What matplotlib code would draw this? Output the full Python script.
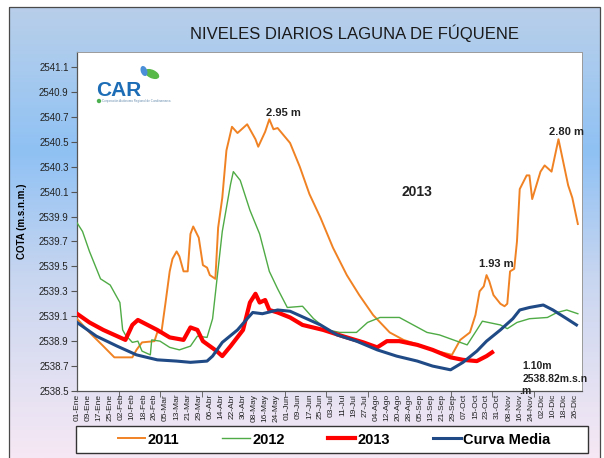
import numpy as np
import matplotlib
matplotlib.use("Agg")
import matplotlib.pyplot as plt
from matplotlib.patches import Rectangle, Ellipse
from matplotlib.colors import LinearSegmentedColormap

plt.rcParams['font.family'] = ['Liberation Sans', 'DejaVu Sans']

# ---------------- data ----------------
tick_labels = ["01-Ene", "09-Ene", "17-Ene", "25-Ene", "02-Feb", "10-Feb", "18-Feb", "26-Feb",
               "05-Mar", "13-Mar", "21-Mar", "29-Mar", "06-Abr", "14-Abr", "22-Abr", "30-Abr",
               "08-May", "16-May", "24-May", "01-Jun", "09-Jun", "17-Jun", "25-Jun", "03-Jul",
               "11-Jul", "19-Jul", "27-Jul", "04-Ago", "12-Ago", "20-Ago", "28-Ago", "05-Sep",
               "13-Sep", "21-Sep", "29-Sep", "07-Oct", "15-Oct", "23-Oct", "31-Oct", "08-Nov",
               "16-Nov", "24-Nov", "02-Dic", "10-Dic", "18-Dic", "26-Dic"]
tick_days = [8 * i for i in range(len(tick_labels))]

days_2011 = [0, 9, 19, 27, 40, 43, 47, 56, 58, 61, 64, 67, 69, 72, 74, 77, 80, 82, 84, 88,
             91, 94, 96, 100, 102, 105, 108, 112, 116, 123, 129, 131, 136, 139, 142, 145,
             154, 161, 168, 176, 185, 195, 204, 214, 226, 236, 250, 260, 271, 277, 284, 288,
             291, 294, 296, 298, 301, 306, 309, 311, 313, 316, 318, 320, 325, 327, 329, 335,
             338, 343, 348, 355, 358, 362]
vals_2011 = [2539.08, 2538.97, 2538.86, 2538.77, 2538.77, 2538.83, 2538.89, 2538.90, 2538.97,
             2538.97, 2539.21, 2539.46, 2539.56, 2539.62, 2539.58, 2539.46, 2539.46, 2539.76,
             2539.82, 2539.73, 2539.51, 2539.49, 2539.43, 2539.40, 2539.81, 2540.05, 2540.43,
             2540.62, 2540.57, 2540.64, 2540.52, 2540.46, 2540.58, 2540.68, 2540.60, 2540.61,
             2540.49, 2540.30, 2540.08, 2539.89, 2539.65, 2539.43, 2539.27, 2539.11, 2538.97,
             2538.91, 2538.86, 2538.82, 2538.79, 2538.91, 2538.97, 2539.11, 2539.30, 2539.34,
             2539.43, 2539.38, 2539.27, 2539.20, 2539.18, 2539.20, 2539.46, 2539.48, 2539.70,
             2540.12, 2540.23, 2540.23, 2540.04, 2540.26, 2540.31, 2540.26, 2540.52, 2540.15,
             2540.05, 2539.84]

days_2012 = [0, 4, 9, 17, 24, 31, 33, 35, 40, 44, 47, 53, 54, 60, 67, 74, 82, 87, 94, 98,
             102, 105, 111, 113, 118, 125, 132, 139, 145, 152, 163, 171, 181, 190, 202, 210,
             219, 233, 243, 253, 262, 272, 282, 289, 293, 306, 311, 318, 327, 340, 347, 354, 362]
vals_2012 = [2539.85, 2539.78, 2539.62, 2539.40, 2539.35, 2539.21, 2538.99, 2538.95, 2538.89,
             2538.90, 2538.82, 2538.79, 2538.91, 2538.90, 2538.85, 2538.83, 2538.86, 2538.94,
             2538.93, 2539.08, 2539.48, 2539.78, 2540.16, 2540.26, 2540.19, 2539.95, 2539.76,
             2539.46, 2539.32, 2539.17, 2539.18, 2539.08, 2538.99, 2538.97, 2538.97, 2539.05,
             2539.09, 2539.09, 2539.03, 2538.97, 2538.95, 2538.91, 2538.87, 2538.99, 2539.06,
             2539.03, 2539.00, 2539.05, 2539.08, 2539.09, 2539.13, 2539.15, 2539.12]

days_2013 = [0, 9, 19, 29, 35, 40, 44, 51, 58, 67, 77, 82, 87, 91, 101, 105, 111, 120, 125,
             129, 132, 136, 139, 145, 154, 163, 178, 192, 207, 217, 224, 233, 246, 257, 270,
             279, 289, 296, 300]
vals_2013 = [2539.12, 2539.05, 2538.99, 2538.94, 2538.91, 2539.03, 2539.07, 2539.03, 2538.99,
             2538.93, 2538.91, 2539.01, 2538.99, 2538.90, 2538.82, 2538.78, 2538.86, 2538.99,
             2539.21, 2539.28, 2539.21, 2539.23, 2539.15, 2539.13, 2539.09, 2539.03, 2538.99,
             2538.94, 2538.89, 2538.85, 2538.90, 2538.90, 2538.87, 2538.83, 2538.77, 2538.75,
             2538.74, 2538.78, 2538.81]

days_media = [0, 14, 29, 43, 58, 72, 82, 94, 98, 105, 116, 123, 127, 134, 145, 154, 166, 176,
              188, 202, 217, 231, 246, 257, 270, 279, 289, 296, 306, 315, 320, 327, 337, 344,
              354, 361]
vals_media = [2539.05, 2538.94, 2538.86, 2538.79, 2538.75, 2538.74, 2538.73, 2538.74, 2538.78,
              2538.89, 2538.99, 2539.08, 2539.13, 2539.12, 2539.15, 2539.14, 2539.08, 2539.03,
              2538.95, 2538.90, 2538.83, 2538.78, 2538.74, 2538.70, 2538.67, 2538.73, 2538.82,
              2538.90, 2538.99, 2539.08, 2539.15, 2539.17, 2539.19, 2539.15, 2539.08, 2539.03]

y_ticks = [2538.5, 2538.7, 2538.9, 2539.1, 2539.3, 2539.5, 2539.7, 2539.9, 2540.1, 2540.3,
           2540.5, 2540.7, 2540.9, 2541.1]

# ---------------- figure ----------------
W, H = 604, 458
fig = plt.figure(figsize=(W / 100, H / 100), dpi=100)
fig.patch.set_facecolor('white')

bg = fig.add_axes([0, 0, 1, 1], zorder=0)
bg.set_xlim(0, W)
bg.set_ylim(H, 0)
bg.axis('off')
grad = np.linspace(0, 1, 256).reshape(-1, 1)
cmap = LinearSegmentedColormap.from_list('bg', [(0.0, '#b8cee9'), (0.12, '#aacbee'),
                                                (0.32, '#8fc1f4'), (0.6, '#c8d6f0'),
                                                (1.0, '#f6e8f4')])
bg.imshow(grad, cmap=cmap, extent=[9, 600, H, 7], aspect='auto', interpolation='bilinear')
bg.add_patch(Rectangle((9, 7), 591, 460, fill=False, ec='#4a4a4a', lw=0.9))

ax = fig.add_axes([77 / W, 1 - 391 / H, (582 - 77) / W, (391 - 52) / H], zorder=2)
ax.set_facecolor('white')

ax.plot(days_2011, vals_2011, color='#f08224', lw=1.4, label='2011', zorder=3)
ax.plot(days_2012, vals_2012, color='#4fab45', lw=1.0, label='2012', zorder=3)
ax.plot(days_2013, vals_2013, color='#ff0000', lw=3.0, label='2013', zorder=4)
ax.plot(days_media, vals_media, color='#1f4a85', lw=2.2, label='Curva Media', zorder=5)

ax.set_xlim(0, 365)
ax.set_ylim(2538.5, 2541.22)
ax.set_yticks(y_ticks)
ax.set_yticklabels([f"{v:.1f}" for v in y_ticks], fontsize=7, color='#222222')
ax.set_xticks(tick_days)
ax.set_xticklabels(tick_labels, rotation=90, fontsize=6, color='#222222')
ax.tick_params(axis='x', which='major', length=0, pad=2)
ax.set_xticks(list(range(0, 366, 30)), minor=True)
ax.tick_params(axis='x', which='minor', length=4, direction='out', color='#555555')
ax.tick_params(axis='y', length=4, direction='out', color='#555555', pad=2)
for s in ['top', 'right']:
    ax.spines[s].set_color('#9a9a9a')
    ax.spines[s].set_linewidth(0.7)
for s in ['left', 'bottom']:
    ax.spines[s].set_color('#555555')
    ax.spines[s].set_linewidth(0.9)

ax.set_ylabel('COTA (m.s.n.m.)', fontsize=7, fontweight='bold')
ax.yaxis.set_label_coords((27 - 77) / 505, 0.5)

# annotations
ann = dict(fontweight='bold', color='#222222', clip_on=False, zorder=6)
ax.text(149, 2540.73, '2.95 m', ha='center', va='center', fontsize=8, **ann)
ax.text(246, 2540.10, '2013', ha='center', va='center', fontsize=10, **ann)
ax.text(303, 2539.52, '1.93 m', ha='center', va='center', fontsize=8, **ann)
ax.text(354, 2540.58, '2.80 m', ha='center', va='center', fontsize=8, **ann)
ax.text(322, 2538.70, '1.10m', ha='left', va='center', fontsize=7.5, **ann)
ax.text(322, 2538.60, '2538.82m.s.n', ha='left', va='center', fontsize=7.5, **ann)
ax.text(320, 2538.50, '.m', ha='left', va='center', fontsize=7.5, **ann)

# overlay for title / logo / legend frame
ov = fig.add_axes([0, 0, 1, 1], zorder=8)
ov.set_xlim(0, W)
ov.set_ylim(H, 0)
ov.axis('off')
ov.patch.set_alpha(0)
ov.text(354, 33, 'NIVELES DIARIOS LAGUNA DE FÚQUENE', ha='center', va='center',
        fontsize=12, color='#1a1a1a')
ov.text(96, 90, 'CAR', ha='left', va='center', fontsize=15, fontweight='bold', color='#1c6db6')
ov.add_patch(Ellipse((152, 74), 14, 7, angle=25, color='#58b848'))
ov.add_patch(Ellipse((144, 71), 5, 9, angle=-20, color='#4a8fd8'))
ov.add_patch(Ellipse((99, 101), 3, 3, color='#4caf50'))
ov.text(102, 101, 'Corporación Autónoma Regional de Cundinamarca', ha='left', va='center',
        fontsize=2.2, color='#6a8fb0')
ov.add_patch(Rectangle((76, 426), 512, 27, facecolor='white', edgecolor='#333333', lw=1.0,
                       zorder=1))

leg = fig.legend(loc='center', bbox_to_anchor=(334 / W, 1 - 439.5 / H), ncol=4,
                 frameon=False, prop={'weight': 'bold', 'size': 10.5}, handlelength=1.9,
                 handletextpad=0.15, columnspacing=2.95, borderpad=0.3)
leg.set_zorder(20)

fig.savefig('out.png', dpi=100)
